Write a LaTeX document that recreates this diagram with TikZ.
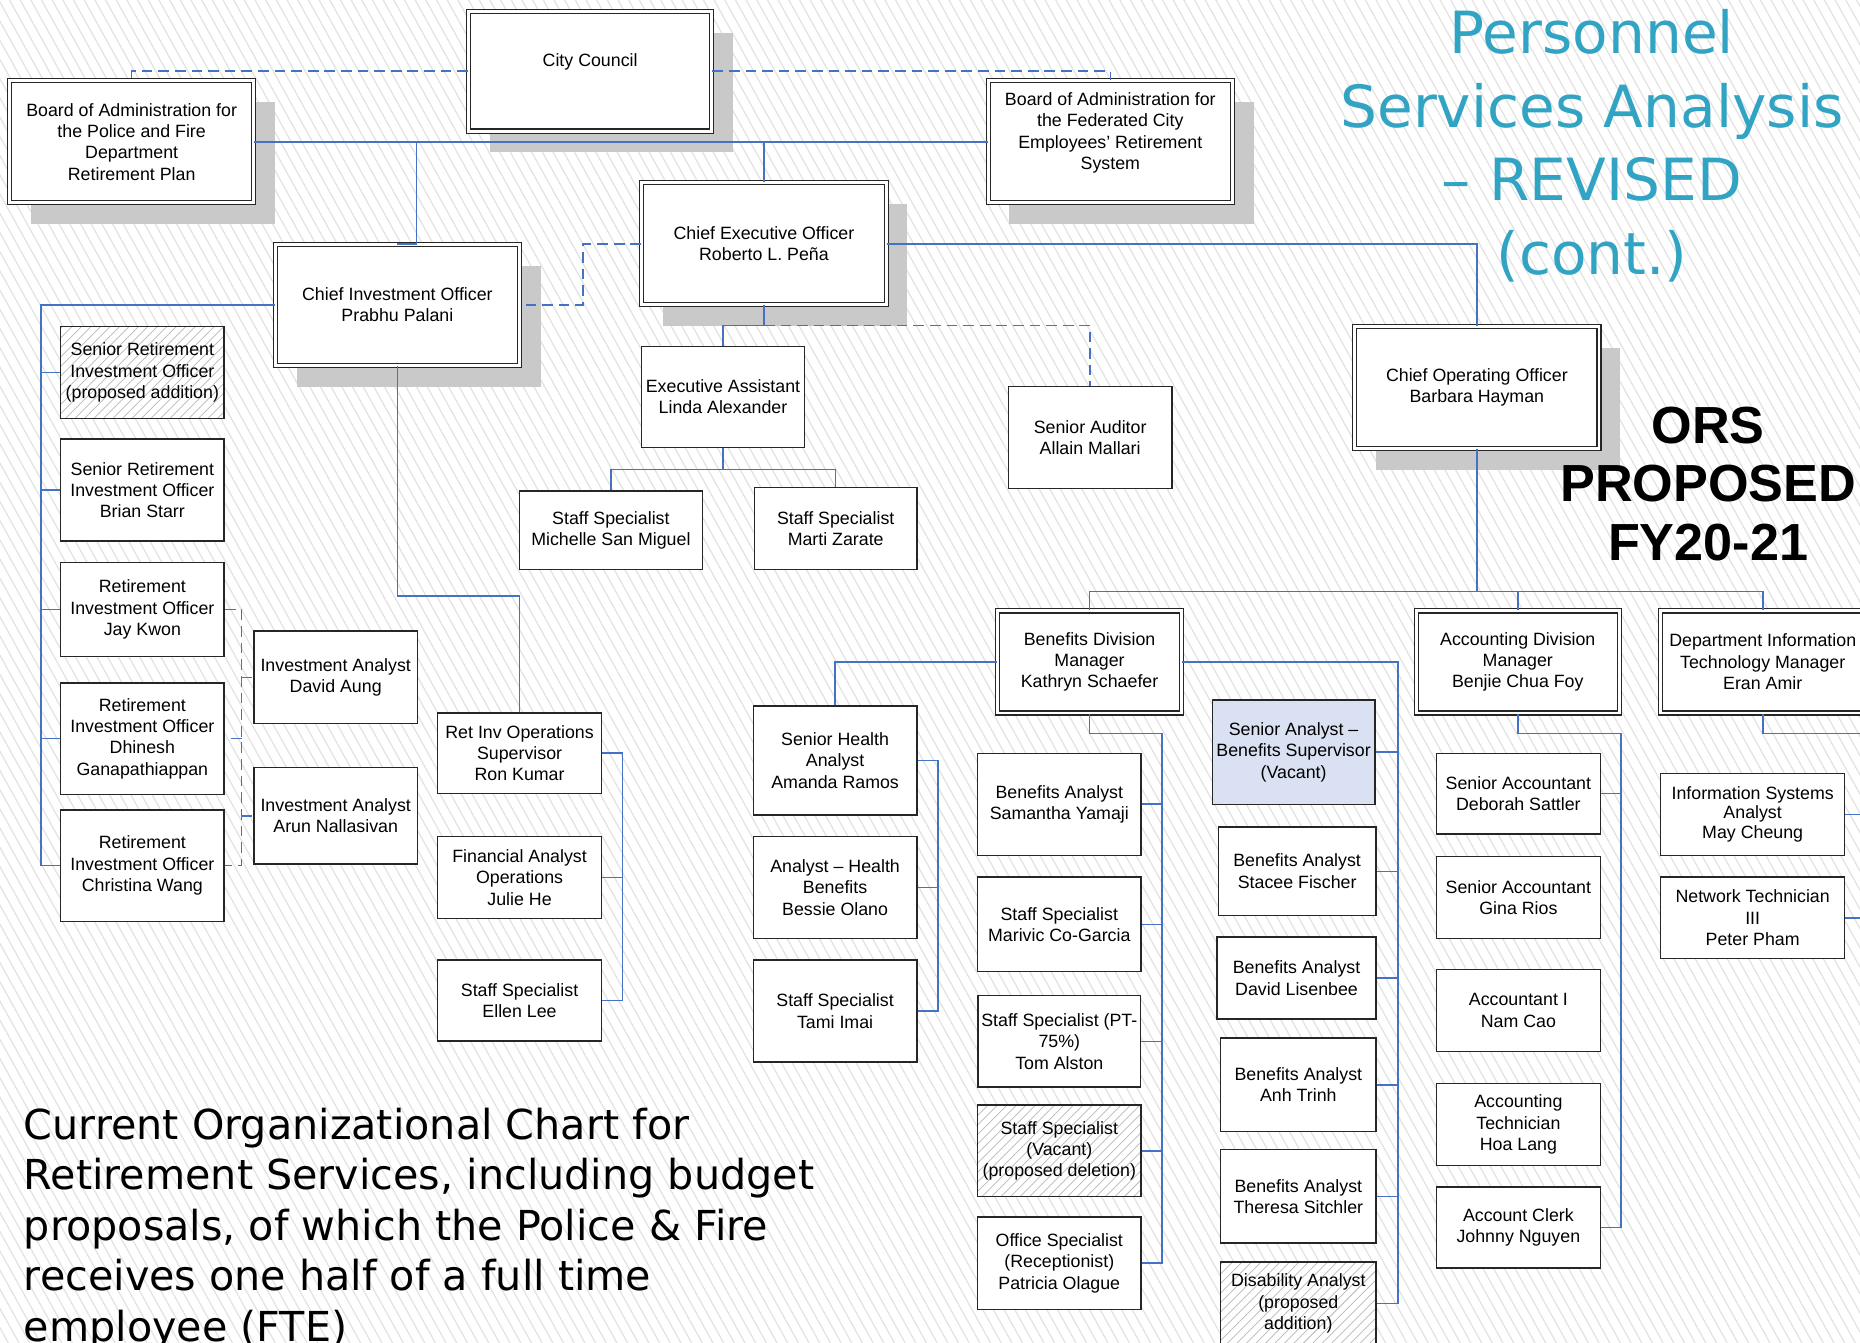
\documentclass[tikz,border=0pt]{standalone}
\usepackage{fontspec}
\setmainfont{Liberation Sans}
\newfontfamily\slidefont{DejaVu Sans}
\usetikzlibrary{positioning,shadows}
\definecolor{orgLine}{HTML}{4472C4}
\definecolor{orgTitle}{HTML}{31A3C3}
\definecolor{orgShadow}{HTML}{C9C9C9}
\definecolor{orgVacant}{HTML}{DAE1F2}
\definecolor{orgHatch}{HTML}{E2E2E2}
\tikzset{
    orgBoxBase/.style={
        rectangle,
        draw=black!85,
        line width=1.2pt,
        fill=white,
        inner sep=0pt,
        align=center,
        font=\fontsize{15}{18}\selectfont
    },
    wh/.style 2 args={minimum width=#1pt, minimum height=#2pt},
    % Semantic Variants
    staff/.style={orgBoxBase},
    lead/.style={orgBoxBase, double, line width=1pt, double distance=2.4pt},
    head/.style={lead, drop shadow={shadow xshift=18pt, shadow yshift=-18pt, opacity=1, fill=orgShadow}},
    vacant/.style={orgBoxBase, fill=orgVacant},
    proposed/.style={orgBoxBase, path picture={
        \foreach \k in {0,8,...,248}
            \draw[gray!55, line width=0.6pt] ([xshift=\k pt-100pt]path picture bounding box.south west) -- ++(110pt,110pt);
    }},
    % Connectors
    orgLink/.style={draw=orgLine, line width=1.3pt},
    orgDashed/.style={orgLink, dash pattern=on 9pt off 5pt}
}
\begin{document}
\begin{tikzpicture}[x=1pt, y=-1pt]
\useasboundingbox (0,0) rectangle (1568,1132);
\clip (0,0) rectangle (1568,1132);
\fill[white] (0,0) rectangle (1568,1132);
\foreach \s in {-640,-631,...,1568}
    \draw[orgHatch, line width=1pt] (\s,0) -- ++(629pt,-1132pt);

% governing boards and executives
\node[head, wh={205}{101}] (council) at (497.5,60) {City Council\\\mbox{}};
\node[head, wh={206}{103}] (bpf) at (111,119.5) {Board of Administration for\\the Police and Fire\\Department\\Retirement Plan};
\node[head, wh={206}{103}] (bfed) at (936,119.5) {Board of Administration for\\the Federated City\\Employees’ Retirement\\System\\\mbox{}};
\node[head, wh={206}{103}] (ceo) at (644,205.5) {Chief Executive Officer\\Roberto L. Peña};
\node[head, wh={206}{102}] (cio) at (335,257) {Chief Investment Officer\\Prabhu Palani};
\node[head, wh={206}{103}] (coo) at (1245,326.5) {Chief Operating Officer\\Barbara Hayman};

% CEO office
\node[staff, wh={137}{85}] (exa) at (609.5,334.5) {Executive Assistant\\Linda Alexander};
\node[staff, wh={138}{86}] (aud) at (919,369) {Senior Auditor\\Allain Mallari};
\node[staff, wh={154}{66}] (ssm) at (515,447) {Staff Specialist\\Michelle San Miguel};
\node[staff, wh={137}{69}] (ssz) at (704.5,445.5) {Staff Specialist\\Marti Zarate};

% investment officers
\node[proposed, wh={138}{78}] (sriop) at (120,314) {Senior Retirement\\Investment Officer\\(proposed addition)};
\node[staff, wh={138}{86}, below=16pt of sriop] (srio) {Senior Retirement\\Investment Officer\\Brian Starr};
\node[staff, wh={138}{79}, below=17pt of srio] (rio1) {Retirement\\Investment Officer\\Jay Kwon};
\node[staff, wh={138}{94}, below=21pt of rio1] (rio2) {Retirement\\Investment Officer\\Dhinesh\\Ganapathiappan};
\node[staff, wh={138}{94}, below=12pt of rio2] (rio3) {Retirement\\Investment Officer\\Christina Wang};
\node[staff, wh={138}{78}] (ia1) at (283,571) {Investment Analyst\\David Aung};
\node[staff, wh={138}{81}, below=36pt of ia1] (ia2) {Investment Analyst\\Arun Nallasivan};
\node[staff, wh={138}{68}] (rios) at (438,635) {Ret Inv Operations\\Supervisor\\Ron Kumar};
\node[staff, wh={138}{69}, below=35pt of rios] (fao) {Financial Analyst\\Operations\\Julie He};
\node[staff, wh={138}{68}, below=34pt of fao] (sse) {Staff Specialist\\Ellen Lee};

% division managers
\node[lead, wh={155}{86}] (bdm) at (918.5,558) {Benefits Division\\Manager\\Kathryn Schaefer};
\node[lead, wh={171}{86}] (adm) at (1279.5,558) {Accounting Division\\Manager\\Benjie Chua Foy};
\node[lead, wh={172}{86}] (ditm) at (1486,558) {Department Information\\Technology Manager\\Eran Amir};

% benefits division
\node[staff, wh={138}{92}] (sha) at (704,641) {Senior Health\\Analyst\\Amanda Ramos};
\node[staff, wh={138}{86}, below=17pt of sha] (ahb) {Analyst – Health\\Benefits\\Bessie Olano};
\node[staff, wh={138}{86}, below=17pt of ahb] (sst) {Staff Specialist\\Tami Imai};
\node[staff, wh={138}{86}] (ba1) at (893,678) {Benefits Analyst\\Samantha Yamaji};
\node[staff, wh={138}{80}, below=17pt of ba1] (ss2) {Staff Specialist\\Marivic Co-Garcia};
\node[staff, wh={137}{77}, below=19pt of ss2] (ss3) {Staff Specialist (PT-\\75\%)\\Tom Alston};
\node[proposed, wh={138}{77}, below=14pt of ss3] (ss4) {Staff Specialist\\(Vacant)\\(proposed deletion)};
\node[staff, wh={138}{78}, below=16pt of ss4] (os) {Office Specialist\\(Receptionist)\\Patricia Olague};
\node[vacant, wh={137}{88}] (sab) at (1090.5,634) {Senior Analyst –\\Benefits Supervisor\\(Vacant)};
\node[staff, wh={133}{75}] (ba2) at (1093.5,734.5) {Benefits Analyst\\Stacee Fischer};
\node[staff, wh={134}{69}] (ba3) at (1093,824.5) {Benefits Analyst\\David Lisenbee};
\node[staff, wh={131}{79}] (ba4) at (1094.5,914.5) {Benefits Analyst\\Anh Trinh};
\node[staff, wh={131}{79}] (ba5) at (1094.5,1008.5) {Benefits Analyst\\Theresa Sitchler};
\node[proposed, wh={131}{70}] (dis) at (1094.5,1099) {Disability Analyst\\(proposed\\addition)};

% accounting and IT
\node[staff, wh={138}{68}] (sa1) at (1280,669) {Senior Accountant\\Deborah Sattler};
\node[staff, wh={138}{69}, below=18pt of sa1] (sa2) {Senior Accountant\\Gina Rios};
\node[staff, wh={138}{69}, below=25pt of sa2] (acc) {Accountant I\\Nam Cao};
\node[staff, wh={138}{69}, below=26pt of acc] (tech) {Accounting\\Technician\\Hoa Lang};
\node[staff, wh={138}{68}, below=17pt of tech] (clerk) {Account Clerk\\Johnny Nguyen};
\node[staff, wh={155}{69}, font=\fontsize{15}{16.5}\selectfont] (isa) at (1477.5,686.5) {Information Systems\\Analyst\\May Cheung};
\node[staff, wh={155}{69}, below=17pt of isa] (nt) {Network Technician\\III\\Peter Pham};

% reporting lines
\draw[orgLink] (bpf.east) -- (bfed.west);
\draw[orgLink] (ceo.north) -- (ceo.north |- bpf.east);
\draw[orgLink] (cio.north) -| ([xshift=16pt]cio.north |- bpf.east);
\draw[orgDashed] (council.west) -| (bpf.north);
\draw[orgDashed] (council.east) -| (bfed.north);
\draw[orgDashed] (ceo.west) -- ++(-49pt,0) |- (cio.east);
\draw[orgLink] (ceo.east) -| (coo.north);

\draw[orgLink] (ceo.south) -- ++(0,-17pt) coordinate (ceoJ) -| (exa.north);
\draw[orgDashed] (ceoJ) -| (aud.north);
\draw[orgLink] (exa.south) -- ++(0,-18pt) coordinate (exaJ) -| (ssm.north);
\draw[orgLink] (exaJ) -| (ssz.north);

\draw[orgLink] (cio.west) -- ++(-197pt,0) coordinate (cioBus) |- (rio3.west);
\foreach \n in {sriop,srio,rio1,rio2}
    \draw[orgLink] (\n.west) -- (\n.west -| cioBus);
\draw[orgDashed] (rio1.east) -- ++(14pt,0) coordinate (iaBus) |- (rio3.east);
\foreach \n in {rio2,ia1,ia2}
    \draw[orgDashed] (\n.center -| iaBus) -- (\n);
\draw[orgLink] (cio.south) -- ++(0,-194pt) -| (rios.north);
\draw[orgLink] (rios.east) -- ++(17pt,0) coordinate (opsBus) |- (sse.east);
\draw[orgLink] (fao.east) -- (fao.east -| opsBus);

\draw[orgLink] (coo.south) -- ++(0,-120pt) coordinate (cooJ) -| (bdm.north);
\draw[orgLink] (cooJ) -| (adm.north);
\draw[orgLink] (cooJ) -| (ditm.north);

\draw[orgLink] (bdm.west) -| (sha.north);
\draw[orgLink] (sha.east) -- ++(17pt,0) coordinate (hlthBus) |- (sst.east);
\draw[orgLink] (ahb.east) -- (ahb.east -| hlthBus);
\draw[orgLink] (bdm.south) -- ++(0,-17pt) -| ([xshift=17pt]os.east) coordinate (benBus) -- (os.east);
\foreach \n in {ba1,ss2,ss3,ss4}
    \draw[orgLink] (\n.east) -- (\n.east -| benBus);
\draw[orgLink] (bdm.east) -- ++(182pt,0) coordinate (supBus) |- (dis.east);
\foreach \n in {sab,ba2,ba3,ba4,ba5}
    \draw[orgLink] (\n.east) -- (\n.east -| supBus);

\draw[orgLink] (adm.south) -- ++(0,-17pt) -| ([xshift=17pt]clerk.east) coordinate (acctBus) -- (clerk.east);
\draw[orgLink] (sa1.east) -- (sa1.east -| acctBus);
\draw[orgLink] (ditm.south) -- ++(0,-17pt) -| ([xshift=25pt]nt.east) coordinate (itBus) -- (nt.east);
\draw[orgLink] (isa.east) -- (isa.east -| itBus);

% slide texts
\node[font=\slidefont\fontsize{49}{62}\selectfont, text=orgTitle, align=center, inner sep=0pt] (title) at (1342,123) {Personnel\\Services Analysis\\– REVISED\\(cont.)};
\node[font=\bfseries\fontsize{44}{49}\selectfont, align=center, inner sep=0pt] (ors) at (1440,408) {ORS\\PROPOSED\\FY20-21};
\node[font=\slidefont\fontsize{34.8}{42.5}\selectfont, align=left, anchor=north west, inner sep=0pt] (caption) at (20,934) {Current Organizational Chart for\\Retirement Services, including budget\\proposals, of which the Police \& Fire\\receives one half of a full time\\employee (FTE)};
\end{tikzpicture}
\end{document}
